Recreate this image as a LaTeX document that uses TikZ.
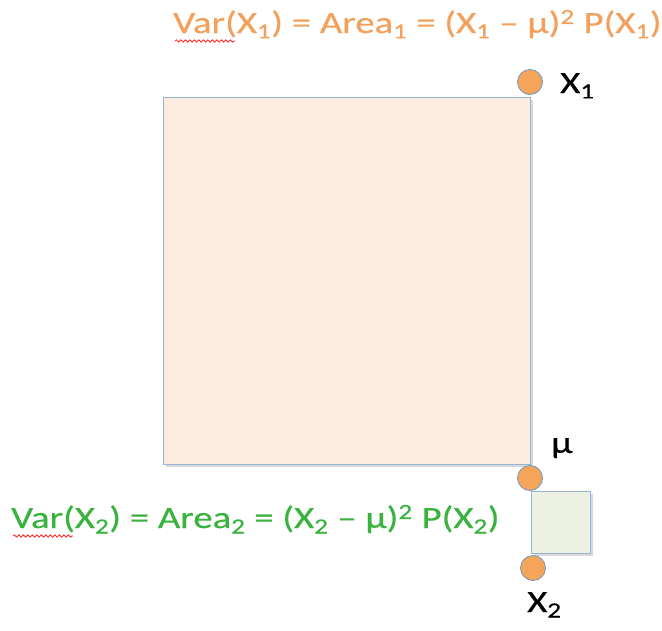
\documentclass[tikz,border=0pt]{standalone}
\usepackage{fontspec}
\setmainfont{Carlito}[FakeBold=0.4]
\usetikzlibrary{decorations.pathmorphing}
\definecolor{orangetxt}{RGB}{242,160,92}
\definecolor{greentxt}{RGB}{58,178,62}
\definecolor{dotfill}{RGB}{245,165,90}
\definecolor{dotline}{RGB}{110,150,200}
\definecolor{bigfill}{RGB}{252,236,224}
\definecolor{boxline}{RGB}{150,180,215}
\definecolor{smallfill}{RGB}{236,241,226}
\newcommand{\wide}[1]{\scalebox{1.25}[1]{#1}}
\tikzset{
  dot/.style={circle,fill=dotfill,draw=dotline,line width=0.8pt,minimum size=25pt,inner sep=0pt},
  sq/.style={draw=boxline,line width=1pt},
  lbl/.style={font=\fontsize{31}{33}\selectfont,inner sep=0pt,anchor=base west},
  squig/.style={draw=red!85,line width=0.8pt,decorate,decoration={snake,amplitude=1.2pt,segment length=4.5pt}}
}
\begin{document}
\begin{tikzpicture}[x=1pt,y=-1pt]
\useasboundingbox (0,0) rectangle (662,630);
% squares
\path[fill=black!15] (166,100) rectangle (533,467);
\filldraw[sq,fill=bigfill] (163,97) rectangle (530,464);
\path[fill=black!15] (534,494) rectangle (593,556);
\filldraw[sq,fill=smallfill] (531,491) rectangle (590,553);
% dots
\node[dot] (d1) at (530,82) {};
\node[dot] (dmu) at (530,478) {};
\node[dot] (d2) at (533,568) {};
% labels
\node[lbl] (lx1) at (560,93) {\wide{X\textsubscript{1}}};
\node[lbl] (lmu) at (551,453) {\wide{μ}};
\node[lbl] (lx2) at (527,612) {\wide{X\textsubscript{2}}};
\node[lbl,text=orangetxt] (t1) at (173,33) {\wide{Var(X\textsubscript{1}) = Area\textsubscript{1} = (X\textsubscript{1} – μ)\textsuperscript{2} P(X\textsubscript{1})}};
\node[lbl,text=greentxt] (t2) at (11,528) {\wide{Var(X\textsubscript{2}) = Area\textsubscript{2} = (X\textsubscript{2} – μ)\textsuperscript{2} P(X\textsubscript{2})}};
% spell-check underlines
\draw[squig] (175,41) -- (235,41);
\draw[squig] (13,536) -- (73,536);
\end{tikzpicture}
\end{document}
